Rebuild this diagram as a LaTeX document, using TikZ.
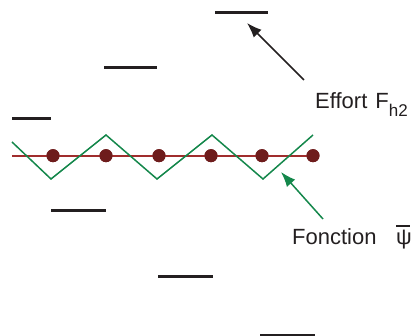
\documentclass[tikz,border=0pt]{standalone}
\usepackage{fontspec}
\setmainfont{Liberation Sans}
\usetikzlibrary{arrows.meta}
\definecolor{barcol}{RGB}{35,31,32}
\definecolor{dotred}{RGB}{110,28,28}
\definecolor{linered}{RGB}{160,45,45}
\definecolor{zigcol}{RGB}{20,135,75}
\begin{document}
\begin{tikzpicture}[x=1pt,y=-1pt,
  barline/.style={line width=3pt,draw=barcol},
  redline/.style={line width=1.7pt,draw=linered},
  zigline/.style={line width=1.5pt,draw=zigcol,line join=miter},
  dotstyle/.style={circle,fill=dotred,inner sep=0pt,minimum size=13pt},
  lbl/.style={anchor=base west,inner sep=0pt,font=\fontsize{22}{26}\selectfont,text=barcol},
  blackarrow/.style={line width=1.5pt,draw=barcol,-{Latex[length=15pt,width=11pt]}},
  greenarrow/.style={line width=1.5pt,draw=zigcol,-{Latex[length=15pt,width=11pt]}}]
\useasboundingbox (0,0) rectangle (415,336);
% bars
\coordinate (b1a) at (215,13);  \coordinate (b1b) at (268,13);
\coordinate (b2a) at (104,68);  \coordinate (b2b) at (157,68);
\coordinate (b3a) at (12,119);  \coordinate (b3b) at (51,119);
\coordinate (b4a) at (51,211);  \coordinate (b4b) at (106,211);
\coordinate (b5a) at (158,277); \coordinate (b5b) at (213,277);
\coordinate (b6a) at (260,335.5); \coordinate (b6b) at (315,335.5);
\draw[barline] (b1a) -- (b1b);
\draw[barline] (b2a) -- (b2b);
\draw[barline] (b3a) -- (b3b);
\draw[barline] (b4a) -- (b4b);
\draw[barline] (b5a) -- (b5b);
\draw[barline] (b6a) -- (b6b);
% red line with dots
\coordinate (r0) at (12,155.7);
\node[dotstyle] (d1) at (53,155.7) {};
\node[dotstyle] (d2) at (106,155.7) {};
\node[dotstyle] (d3) at (159,155.7) {};
\node[dotstyle] (d4) at (211,155.7) {};
\node[dotstyle] (d5) at (262,155.7) {};
\node[dotstyle] (d6) at (313,155.7) {};
\draw[redline] (r0) -- (d6.center);
\foreach \i in {1,...,6} {\fill[dotred] (d\i.center) circle (6.5pt);}
% zigzag
\draw[zigline] (12,142) -- (51,179) -- (106,135) -- (157,179) -- (212,135) -- (263,179) -- (313,135);
% labels
\node[lbl] (effort) at (315,109) {Effort\hspace{8pt}F\raisebox{-7.5pt}{\fontsize{17}{20}\selectfont h2}};
\node[lbl] (fonction) at (292,245) {Fonction};
\node[lbl] (psi) at (396,245) {\makebox[0pt][l]{\raisebox{18.3pt}{\rule{14pt}{1.4pt}}}ψ};
\coordinate (t1) at (247,23);
\coordinate (s1) at (304,80);
\coordinate (t2) at (281,172);
\coordinate (s2) at (323,219);
\draw[blackarrow] (s1) -- (t1);
\draw[greenarrow] (s2) -- (t2);
\end{tikzpicture}
\end{document}
